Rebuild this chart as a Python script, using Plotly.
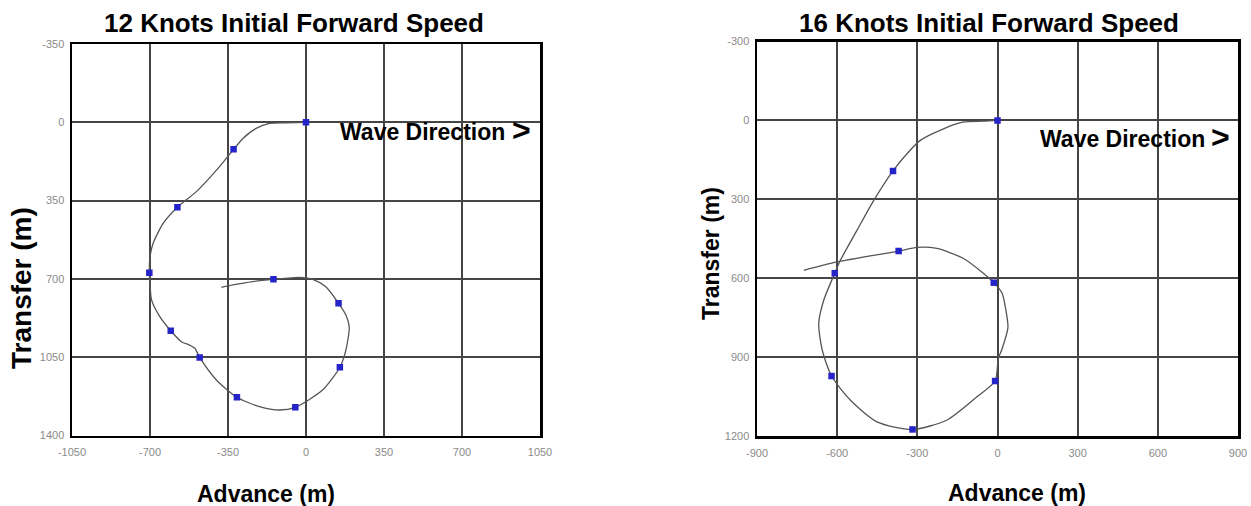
import plotly.graph_objects as go

# ---------------- data: 12 knots ----------------
path12_x = [0, -89, -164, -224, -283, -325, -388, -492, -577, -641, -686, -700, -703,
            -700, -693, -656, -607, -559, -522, -499, -477, -402, -310, -209, -119, -48,
            74, 152, 179, 194, 179, 146, 89, 30, -30, -146, -239, -328, -380]
path12_y = [0, 2, 5, 27, 72, 121, 198, 310, 380, 452, 541, 601, 673,
            720, 794, 869, 932, 981, 996, 1010, 1051, 1152, 1229, 1271, 1286, 1274,
            1197, 1095, 1018, 914, 861, 809, 735, 702, 693, 702, 712, 727, 738]
mark12_x = [0, -325, -577, -703, -607, -477, -310, -48, 152, 146, -146]
mark12_y = [0, 121, 380, 673, 932, 1051, 1229, 1274, 1095, 809, 702]

# ---------------- data: 16 knots ----------------
path16_x = [0, -52, -127, -202, -289, -339, -391, -463, -526, -588, -609, -650, -669,
            -656, -621, -551, -451, -318, -189, -77, -9, 3, 17, 39, 31, 17, -14,
            -52, -127, -227, -301, -370, -600, -725]
path16_y = [0, 3, 6, 32, 76, 127, 192, 304, 418, 532, 581, 683, 772,
            873, 972, 1063, 1146, 1175, 1139, 1051, 991, 906, 869, 788, 719, 656, 617,
            582, 525, 487, 483, 497, 538, 570]
mark16_x = [0, -391, -609, -621, -318, -9, -14, -370]
mark16_y = [0, 192, 581, 972, 1175, 991, 617, 497]

# ---------------- ticks ----------------
ticks12_x = [-1050, -700, -350, 0, 350, 700, 1050]
ticks12_y = [-350, 0, 350, 700, 1050, 1400]
ticks16_x = [-900, -600, -300, 0, 300, 600, 900]
ticks16_y = [-300, 0, 300, 600, 900, 1200]

titles = ["12 Knots Initial Forward Speed", "16 Knots Initial Forward Speed"]

W, H = 1251, 506
LINE = "#555555"
MARK = "#2424c8"
GRID = "#454545"

fig = go.Figure()
fig.add_trace(go.Scatter(x=path12_x, y=path12_y, mode="lines",
                         line=dict(color=LINE, width=1.3, shape="spline", smoothing=0.7),
                         xaxis="x", yaxis="y", showlegend=False, hoverinfo="skip"))
fig.add_trace(go.Scatter(x=mark12_x, y=mark12_y, mode="markers",
                         marker=dict(symbol="square", size=6.5, color=MARK),
                         xaxis="x", yaxis="y", showlegend=False))
fig.add_trace(go.Scatter(x=path16_x, y=path16_y, mode="lines",
                         line=dict(color=LINE, width=1.3, shape="spline", smoothing=0.7),
                         xaxis="x2", yaxis="y2", showlegend=False, hoverinfo="skip"))
fig.add_trace(go.Scatter(x=mark16_x, y=mark16_y, mode="markers",
                         marker=dict(symbol="square", size=6.5, color=MARK),
                         xaxis="x2", yaxis="y2", showlegend=False))

tickfont = dict(family="Liberation Sans", size=11, color="#8a8a8a")
common = dict(showgrid=True, gridcolor=GRID, gridwidth=2, zeroline=False,
              showline=True, linecolor="black", linewidth=2.5, mirror=True,
              ticks="", tickfont=tickfont, fixedrange=True, automargin=False)

def px2x(p):
    return p / W

def py2y(p):
    return 1 - p / H

fig.update_layout(
    width=W, height=H, margin=dict(l=0, r=0, t=0, b=0, pad=0, autoexpand=False),
    paper_bgcolor="white", plot_bgcolor="white",
    xaxis=dict(domain=[px2x(72), px2x(540)], range=[ticks12_x[0], ticks12_x[-1]],
               tickvals=ticks12_x, ticktext=[str(v) for v in ticks12_x], anchor="y",
               ticklabelstandoff=5, **common),
    yaxis=dict(domain=[py2y(435.5), py2y(44)], range=[ticks12_y[-1], ticks12_y[0]],
               tickvals=ticks12_y, ticktext=[str(v) for v in ticks12_y], anchor="x",
               ticklabelstandoff=3, **common),
    xaxis2=dict(domain=[px2x(757), px2x(1238)], range=[ticks16_x[0], ticks16_x[-1]],
                tickvals=ticks16_x, ticktext=[str(v) for v in ticks16_x], anchor="y2",
                ticklabelstandoff=5, **common),
    yaxis2=dict(domain=[py2y(436), py2y(41.5)], range=[ticks16_y[-1], ticks16_y[0]],
                tickvals=ticks16_y, ticktext=[str(v) for v in ticks16_y], anchor="x2",
                ticklabelstandoff=3, **common),
)

bold = "Liberation Sans"
ann = []
# titles
ann.append(dict(text="<b>%s</b>" % titles[0], x=px2x(294), y=py2y(23), xref="paper", yref="paper",
                showarrow=False, font=dict(family=bold, size=26, color="black"),
                xanchor="center", yanchor="middle"))
ann.append(dict(text="<b>%s</b>" % titles[1], x=px2x(989), y=py2y(23), xref="paper", yref="paper",
                showarrow=False, font=dict(family=bold, size=26, color="black"),
                xanchor="center", yanchor="middle"))
# x titles
ann.append(dict(text="<b>Advance (m)</b>", x=px2x(266), y=py2y(494), xref="paper", yref="paper",
                showarrow=False, font=dict(family=bold, size=23, color="black"),
                xanchor="center", yanchor="middle"))
ann.append(dict(text="<b>Advance (m)</b>", x=px2x(1017), y=py2y(493), xref="paper", yref="paper",
                showarrow=False, font=dict(family=bold, size=23, color="black"),
                xanchor="center", yanchor="middle"))
# y titles
ann.append(dict(text="<b>Transfer (m)</b>", x=px2x(21), y=py2y(288), xref="paper", yref="paper",
                showarrow=False, textangle=-90, font=dict(family=bold, size=28, color="black"),
                xanchor="center", yanchor="middle"))
ann.append(dict(text="<b>Transfer (m)</b>", x=px2x(711), y=py2y(254), xref="paper", yref="paper",
                showarrow=False, textangle=-90, font=dict(family=bold, size=23, color="black"),
                xanchor="center", yanchor="middle"))
# wave direction
ann.append(dict(text="<b>Wave Direction</b>", x=px2x(507), y=py2y(132), xref="paper", yref="paper",
                showarrow=False, font=dict(family=bold, size=23, color="black"),
                xanchor="right", yanchor="middle"))
ann.append(dict(text="<b>&gt;</b>", x=px2x(510), y=py2y(130), xref="paper", yref="paper",
                showarrow=False, font=dict(family=bold, size=32, color="black"),
                xanchor="left", yanchor="middle"))
ann.append(dict(text="<b>Wave Direction</b>", x=px2x(1207), y=py2y(139), xref="paper", yref="paper",
                showarrow=False, font=dict(family=bold, size=23, color="black"),
                xanchor="right", yanchor="middle"))
ann.append(dict(text="<b>&gt;</b>", x=px2x(1209), y=py2y(137), xref="paper", yref="paper",
                showarrow=False, font=dict(family=bold, size=32, color="black"),
                xanchor="left", yanchor="middle"))
fig.update_layout(annotations=ann)

fig.write_html("out.html",
               config={"displayModeBar": False, "staticPlot": True},
               post_script="document.body.style.margin='0';document.body.style.padding='0';"
                           "document.body.style.overflow='hidden';")
